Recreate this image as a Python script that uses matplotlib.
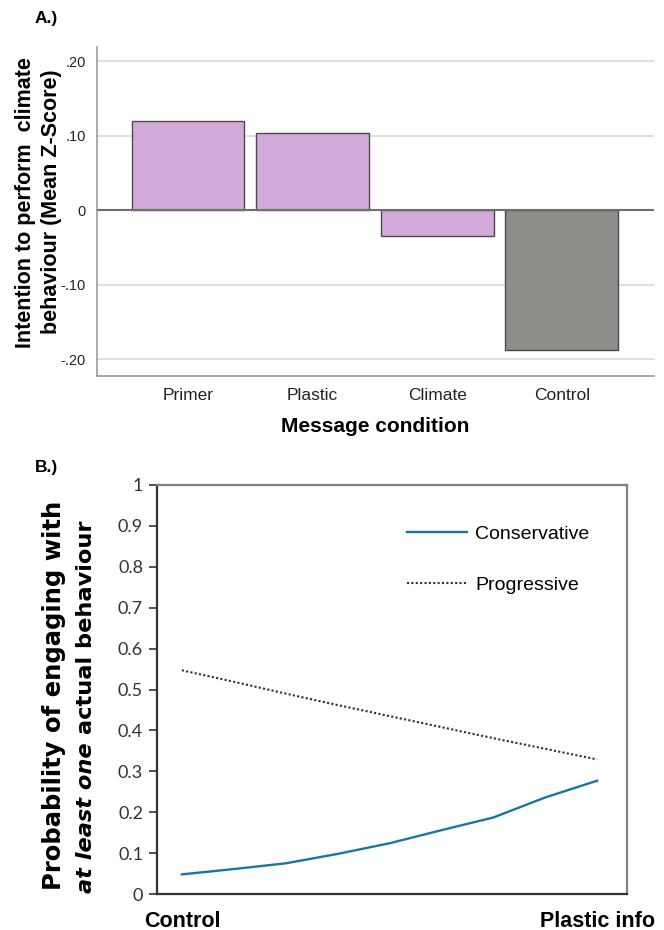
import numpy as np
import matplotlib
matplotlib.use("Agg")
import matplotlib.pyplot as plt

# Panel A data
conditions = ["Primer", "Plastic", "Climate", "Control"]
mean_z = [0.120, 0.103, -0.035, -0.188]
bar_colors = ["#D2AADA", "#D2AADA", "#D2AADA", "#8E8D89"]
a_ticks = [0.20, 0.10, 0.0, -0.10, -0.20]
a_ticklabels = [".20", ".10", "0", "-.10", "-.20"]

# Panel B data
b_positions = [0, 0.125, 0.25, 0.375, 0.5, 0.625, 0.75, 0.875, 1.0]
conservative = [0.048, 0.061, 0.075, 0.098, 0.124, 0.156, 0.187, 0.236, 0.277]
progressive = [0.547, 0.519, 0.490, 0.462, 0.435, 0.408, 0.381, 0.355, 0.329]
b_xticks = [0, 1]
b_xticklabels = ["Control", "Plastic info"]
b_yticks = [0, 0.1, 0.2, 0.3, 0.4, 0.5, 0.6, 0.7, 0.8, 0.9, 1.0]
b_yticklabels = ["0", "0.1", "0.2", "0.3", "0.4", "0.5", "0.6", "0.7", "0.8", "0.9", "1"]

narrow = ["Liberation Sans Narrow", "Liberation Sans"]
arial = ["Liberation Sans", "DejaVu Sans"]

fig = plt.figure(figsize=(6.64, 9.30), dpi=100)

# ---------- A ----------
axA = fig.add_axes([0.146, 0.596, 0.839, 0.3535])
for y in [0.2, 0.1, -0.1, -0.2]:
    axA.axhline(y, color="#D9D9D9", lw=1.2, zorder=0)
axA.axhline(0, color="#6E6E6E", lw=1.5, zorder=3)
axA.bar(range(len(conditions)), mean_z, width=0.905, color=bar_colors,
        edgecolor="#4A4A4A", linewidth=1.0, zorder=2)
axA.set_xlim(-0.73, 3.74)
axA.set_ylim(-0.222, 0.219)
axA.set_yticks(a_ticks)
axA.set_yticklabels(a_ticklabels, family=narrow, fontsize=10.5, color="#222222")
axA.set_xticks(range(len(conditions)))
axA.set_xticklabels(conditions, family=narrow, fontsize=12.5, color="#222222")
axA.tick_params(axis="x", length=0, pad=9)
axA.tick_params(axis="y", length=0, pad=8)
for s in ["top", "right"]:
    axA.spines[s].set_visible(False)
for s in ["left", "bottom"]:
    axA.spines[s].set_color("#9A9A9A")
    axA.spines[s].set_linewidth(1.2)
axA.set_xlabel("Message condition", family=narrow, fontsize=15, fontweight="bold", labelpad=10)
axA.set_ylabel("Intention to perform  climate\nbehaviour (Mean Z-Score)", family=arial,
               fontsize=15.5, fontweight="bold", linespacing=1.35)
axA.yaxis.set_label_coords(-0.062, 0.528)
fig.text(35 / 664, 1 - 18 / 930, "A.)", family=arial, fontsize=12.5, fontweight="bold",
         va="center", ha="left")

# ---------- B ----------
axB = fig.add_axes([0.2364, 0.0387, 0.7078, 0.4398])
axB.plot(b_positions, conservative, color="#1B75A1", lw=1.7, label="Conservative")
axB.plot(b_positions, progressive, color="#2E2E2E", lw=1.5, ls=(0, (1, 1.1)), label="Progressive")
axB.set_xlim(-0.06, 1.072)
axB.set_ylim(0, 1)
axB.set_yticks(b_yticks)
axB.set_yticklabels(b_yticklabels, family=["Lato", "DejaVu Sans"], fontsize=13, color="#333333")
axB.set_xticks(b_xticks)
axB.set_xticklabels(b_xticklabels, family=arial, fontsize=15.5, fontweight="bold")
axB.tick_params(axis="x", length=0, pad=12)
axB.tick_params(axis="y", direction="out", length=6, width=1.2, color="#333333", pad=4)
for s in ["left", "bottom"]:
    axB.spines[s].set_color("#333333")
    axB.spines[s].set_linewidth(1.6)
for s in ["top", "right"]:
    axB.spines[s].set_color("#7F7F7F")
    axB.spines[s].set_linewidth(1.6)
leg = axB.legend(loc="upper left", bbox_to_anchor=(0.495, 0.945), frameon=False,
                 prop={"family": arial, "size": 14}, handlelength=3.1,
                 labelspacing=1.75, handletextpad=0.4)

fig.text(54 / 664, 1 - 695 / 930, "Probability of engaging with", rotation=90,
         family=["DejaVu Sans"], fontsize=17.5, fontweight="bold",
         ha="center", va="center")
t2 = fig.text(86 / 664, 1 - 893 / 930, "at least one", rotation=90,
              family=["DejaVu Sans"], fontsize=16.2, fontweight="bold", style="italic",
              ha="center", va="bottom")
axB.annotate(" actual behaviour", xy=(0.5, 1.0), xycoords=t2, rotation=90,
             family=["DejaVu Sans"], fontsize=16.2, fontweight="bold",
             ha="center", va="bottom", annotation_clip=False)
fig.text(35 / 664, 1 - 467 / 930, "B.)", family=arial, fontsize=12.5, fontweight="bold",
         va="center", ha="left")

fig.savefig("out.png", dpi=100)
